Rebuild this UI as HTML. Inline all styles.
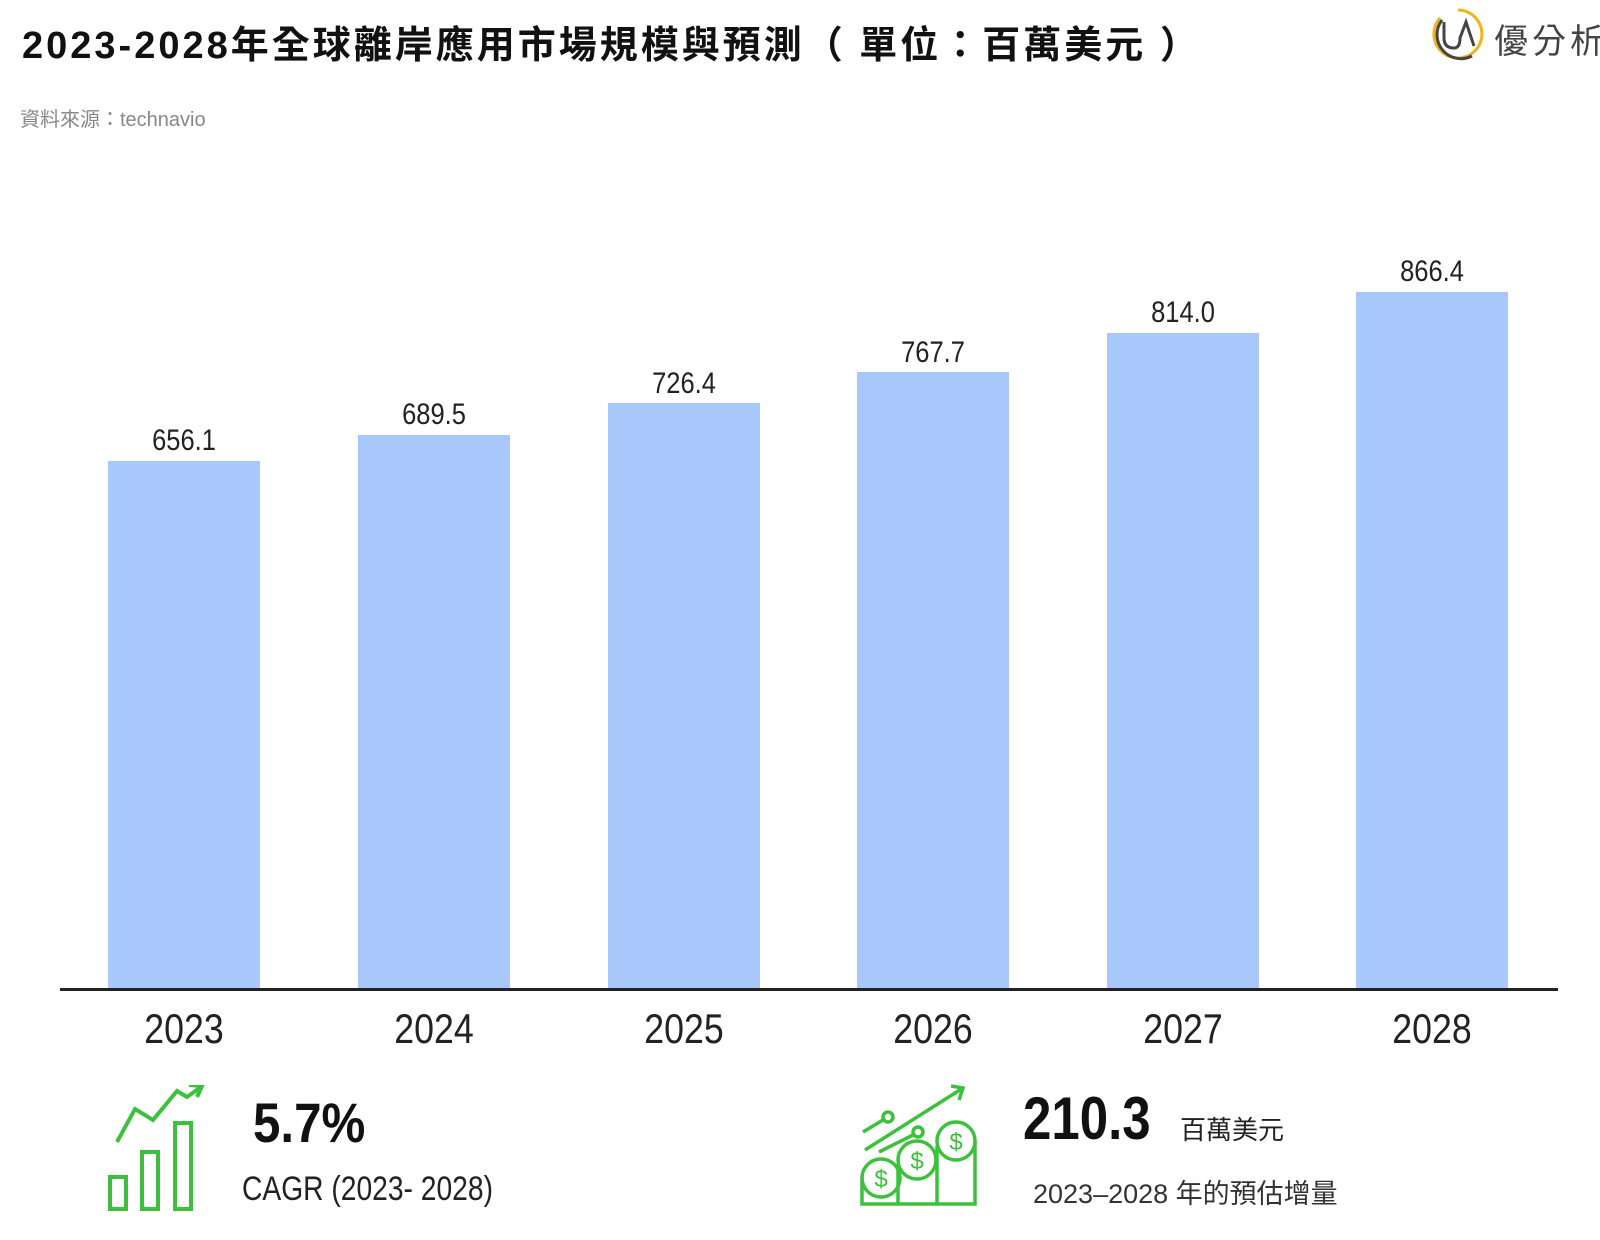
<!DOCTYPE html>
<html><head><meta charset="utf-8"><style>
body{margin:0;width:1600px;height:1240px;background:#fff;position:relative;overflow:hidden;font-family:"Liberation Sans","Noto Sans CJK TC",sans-serif}
.a{position:absolute;white-space:nowrap}
.bar{position:absolute;background:#a8c8fb;width:152px}
.v{position:absolute;width:152px;text-align:center;font-size:30px;color:#222;transform:scaleX(0.85)}
.y{position:absolute;width:152px;text-align:center;font-size:42px;color:#222;transform:scaleX(0.85)}
</style></head><body>
<div class="a" style="left:22px;top:14px;font-size:38px;font-weight:bold;color:#111;letter-spacing:3px">2023-2028年全球離岸應用市場規模與預測（ 單位：百萬美元 ）</div>
<div class="a" style="left:20px;top:103px;font-size:20px;color:#888">資料來源：technavio</div>
<svg class="a" style="left:1430px;top:6px" width="56" height="56" viewBox="0 0 56 56">
<path d="M28 4 A24 24 0 1 1 10 12" fill="none" stroke="#f3b21a" stroke-width="3"/>
<path d="M12 14 A24 24 0 0 0 42 50" fill="none" stroke="#444" stroke-width="3"/>
<path d="M14 16 V32 Q14 42 24 42 Q30 42 30 32 L36 16 L44 40" fill="none" stroke="#444" stroke-width="3"/>
</svg>
<div class="a" style="left:1494px;top:14px;font-size:34px;color:#444;letter-spacing:4px">優分析</div>

<div class="bar" style="left:108px;top:461px;height:529px"></div>
<div class="bar" style="left:358px;top:435px;height:555px"></div>
<div class="bar" style="left:608px;top:403px;height:587px"></div>
<div class="bar" style="left:857px;top:372px;height:618px"></div>
<div class="bar" style="left:1107px;top:333px;height:657px"></div>
<div class="bar" style="left:1356px;top:292px;height:698px"></div>
<div class="v" style="left:108px;top:424px">656.1</div>
<div class="v" style="left:358px;top:398px">689.5</div>
<div class="v" style="left:608px;top:367px">726.4</div>
<div class="v" style="left:857px;top:336px">767.7</div>
<div class="v" style="left:1107px;top:296px">814.0</div>
<div class="v" style="left:1356px;top:255px">866.4</div>
<div class="a" style="left:60px;top:988px;width:1498px;height:3px;background:#222"></div>
<div class="y" style="left:108px;top:1005px">2023</div>
<div class="y" style="left:358px;top:1005px">2024</div>
<div class="y" style="left:608px;top:1005px">2025</div>
<div class="y" style="left:857px;top:1005px">2026</div>
<div class="y" style="left:1107px;top:1005px">2027</div>
<div class="y" style="left:1356px;top:1005px">2028</div>

<svg class="a" style="left:105px;top:1085px" width="100" height="128" viewBox="0 0 100 128" fill="none" stroke="#3cc13c" stroke-width="4">
<rect x="5" y="92" width="16" height="32"/><rect x="37" y="67" width="16" height="57"/><rect x="70" y="38" width="16" height="86"/>
<path d="M12 57 L30 24 L48 35 L72 6 L82 12 L96 2"/><path d="M84 0 L97 1 L92 12"/>
</svg>
<div class="a" style="left:253px;top:1090px;font-size:56px;font-weight:bold;color:#111;transform:scaleX(0.88);transform-origin:left">5.7%</div>
<div class="a" style="left:242px;top:1170px;font-size:34px;color:#222;transform:scaleX(0.83);transform-origin:left">CAGR (2023- 2028)</div>

<svg class="a" style="left:855px;top:1080px" width="125" height="130" viewBox="0 0 125 130" fill="none" stroke="#3cc13c" stroke-width="3.5">
<path d="M10 70 L108 8 M96 6 L108 8 L104 20"/>
<path d="M8 52 L28 40"/><circle cx="33" cy="37" r="5"/>
<path d="M24 72 L58 55"/><circle cx="63" cy="52" r="5"/>
<circle cx="26" cy="98" r="19"/><circle cx="62" cy="80" r="19"/><circle cx="101" cy="61" r="19"/>
<path d="M7 98 V124 H120 V61 M43 84 V124 M82 66 V124"/>
<text x="26" y="107" font-size="24" fill="#3cc13c" stroke="none" text-anchor="middle">$</text>
<text x="62" y="89" font-size="24" fill="#3cc13c" stroke="none" text-anchor="middle">$</text>
<text x="101" y="70" font-size="24" fill="#3cc13c" stroke="none" text-anchor="middle">$</text>
</svg>
<div class="a" style="left:1023px;top:1084px;font-size:60px;font-weight:bold;color:#111;transform:scaleX(0.85);transform-origin:left">210.3</div>
<div class="a" style="left:1180px;top:1110px;font-size:26px;color:#222">百萬美元</div>
<div class="a" style="left:1033px;top:1172px;font-size:27px;color:#333">2023–2028 年的預估增量</div>
</body></html>
